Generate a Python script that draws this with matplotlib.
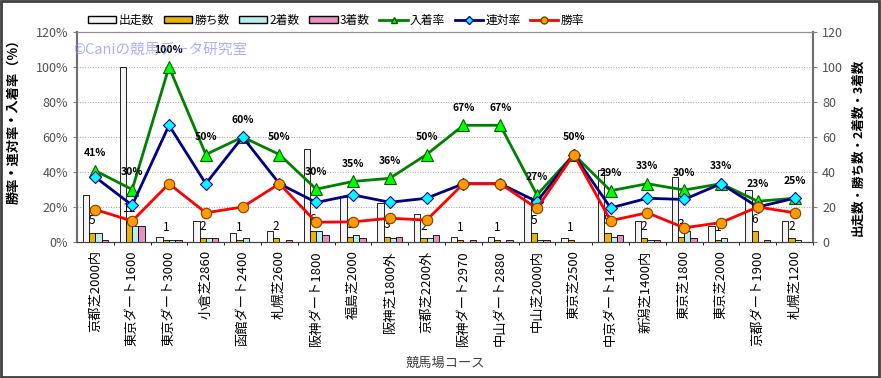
import matplotlib.pyplot as plt
import matplotlib.patches as patches
from matplotlib.lines import Line2D
from matplotlib.ticker import FixedLocator

plt.rcParams['font.family'] = ['Noto Sans CJK JP', 'DejaVu Sans']

courses = ['京都芝2000内', '東京ダート1600', '東京ダート3000', '小倉芝2860', '函館ダート2400',
           '札幌芝2600', '阪神ダート1800', '福島芝2000', '阪神芝1800外', '京都芝2200外',
           '阪神ダート2970', '中山ダート2880', '中山芝2000内', '東京芝2500', '中京ダート1400',
           '新潟芝1400内', '東京芝1800', '東京芝2000', '京都ダート1900', '札幌芝1200']

starts = [27, 100, 3, 12, 5, 6, 53, 26, 22, 16, 3, 3, 26, 2, 41, 12, 37, 9, 30, 12]
wins = [5, 12, 1, 2, 1, 2, 6, 3, 3, 2, 1, 1, 5, 1, 5, 2, 3, 1, 6, 2]
seconds = [5, 9, 1, 2, 2, 0, 6, 4, 2, 2, 0, 0, 1, 0, 3, 1, 6, 2, 0, 1]
thirds = [1, 9, 1, 2, 0, 1, 4, 2, 3, 4, 1, 1, 1, 0, 4, 1, 2, 0, 1, 0]

place_rate = [40.7, 30.0, 100.0, 50.0, 60.0, 50.0, 30.2, 34.6, 36.4, 50.0,
              66.7, 66.7, 26.9, 50.0, 29.3, 33.3, 29.7, 33.3, 23.3, 25.0]
quinella_rate = [37.0, 21.0, 66.7, 33.3, 60.0, 33.3, 22.6, 26.9, 22.7, 25.0,
                 33.3, 33.3, 23.1, 50.0, 19.5, 25.0, 24.3, 33.3, 20.0, 25.0]
win_rate = [18.5, 12.0, 33.3, 16.7, 20.0, 33.3, 11.3, 11.5, 13.6, 12.5,
            33.3, 33.3, 19.2, 50.0, 12.2, 16.7, 8.1, 11.1, 20.0, 16.7]
place_labels = ['41%', '30%', '100%', '50%', '60%', '50%', '30%', '35%', '36%', '50%',
                '67%', '67%', '27%', '50%', '29%', '33%', '30%', '33%', '23%', '25%']

fig = plt.figure(figsize=(8.81, 3.78), dpi=100)
fig.patch.set_facecolor('white')
ax = fig.add_axes([0.0874, 0.3598, 0.8354, 0.5555])
ax2 = ax.twinx()
ax.set_zorder(ax2.get_zorder() + 1)
ax.patch.set_visible(False)
ax2.patch.set_facecolor('#F9EFD7')

x = list(range(len(courses)))
w = 0.17
bar_styles = [
    (starts, '#F4F4F4', '出走数', -1.5),
    (wins, '#E8B400', '勝ち数', -0.5),
    (seconds, '#B8F0F0', '2着数', 0.5),
    (thirds, '#E890C0', '3着数', 1.5),
]
for vals, col, lab, off in bar_styles:
    ax2.bar([i + off * w for i in x], vals, width=w, color=col,
            edgecolor='black', linewidth=0.6, zorder=3)

# win counts written above the 勝ち数 bars
for i, v in enumerate(wins):
    ax2.text(i - 0.5 * w, v + 7, str(v), ha='center', va='center',
             fontsize=8.5, color='black', zorder=4)

ax.plot(x, place_rate, color='#008000', lw=2, marker='^', ms=8,
        mfc='#00FF00', mec='#006000', mew=0.8, zorder=5)
ax.plot(x, quinella_rate, color='#000080', lw=2, marker='D', ms=6,
        mfc='#00FFFF', mec='#0000A0', mew=0.8, zorder=6)
ax.plot(x, win_rate, color='#FF0000', lw=2, marker='o', ms=7.5,
        mfc='#FF9900', mec='#804000', mew=0.8, zorder=7)

for i, (v, s) in enumerate(zip(place_rate, place_labels)):
    ax.text(i, v + 10, s, ha='center', va='center', fontsize=7.5,
            fontweight='bold', color='black', zorder=8)

for a in (ax, ax2):
    a.set_xlim(-0.5, len(courses) - 0.5)
    a.set_ylim(0, 120)
    a.set_yticks(range(0, 121, 20))

ax.set_yticklabels([f'{t}%' for t in range(0, 121, 20)])
ax.set_xticks(x)
ax.set_xticklabels(courses, rotation=90, fontsize=9.5)
ax.tick_params(axis='x', length=0, pad=6)
ax.tick_params(axis='y', labelsize=9, labelcolor='#505050', length=3, color='#808080')
ax2.tick_params(axis='y', labelsize=9, labelcolor='#505050', length=3, color='#808080')

ax2.xaxis.set_minor_locator(FixedLocator([i + 0.5 for i in x]))
ax2.grid(True, which='minor', axis='x', color='#A0A0A0', ls=':', lw=0.7, zorder=0)
ax2.grid(True, which='major', axis='y', color='#A0A0A0', ls=':', lw=0.7, zorder=0)
ax2.set_axisbelow(True)

for a in (ax, ax2):
    for sp in a.spines.values():
        sp.set_color('#909090')
        sp.set_linewidth(0.8)
    a.spines['left'].set_color('#707070')
    a.spines['left'].set_linewidth(1.5)
    a.spines['right'].set_color('#707070')
    a.spines['right'].set_linewidth(1.5)
    a.spines['bottom'].set_color('#404040')

ax.set_ylabel('勝率・連対率・入着率（%）', fontsize=9.5, fontweight='bold')
ax.yaxis.set_label_coords(-0.077, 0.59)
ax2.set_ylabel('出走数・勝ち数・2着数・3着数', fontsize=9, fontweight='bold', rotation=90)
ax2.yaxis.set_label_coords(1.053, 0.45)
ax.set_xlabel('競馬場コース', fontsize=9.5, color='#404040', labelpad=8)

ax.text(-0.005, 0.91, '©Caniの競馬データ研究室', transform=ax.transAxes,
        fontsize=10.5, color='#8C8CFF', alpha=0.7, ha='left', va='center', zorder=9)

handles = [
    patches.Patch(facecolor='#F4F4F4', edgecolor='black', label='出走数'),
    patches.Patch(facecolor='#E8B400', edgecolor='black', label='勝ち数'),
    patches.Patch(facecolor='#B8F0F0', edgecolor='black', label='2着数'),
    patches.Patch(facecolor='#E890C0', edgecolor='black', label='3着数'),
    Line2D([], [], color='#008000', lw=2, marker='^', ms=5, mfc='#00FF00', mec='#006000', label='入着率'),
    Line2D([], [], color='#000080', lw=2, marker='D', ms=4, mfc='#00FFFF', mec='#0000A0', label='連対率'),
    Line2D([], [], color='#FF0000', lw=2, marker='o', ms=5, mfc='#FF9900', mec='#804000', label='勝率'),
]
fig.legend(handles=handles, loc='center left', bbox_to_anchor=(0.088, 0.947), ncol=7,
           frameon=False, fontsize=8.5, handlelength=2.4, handleheight=0.5,
           handletextpad=0.2, columnspacing=0.8)

fig.add_artist(patches.Rectangle((0.001, 0.002), 0.997, 0.995, transform=fig.transFigure,
                                 fill=False, edgecolor='#404040', lw=2))

fig.savefig('out.png', dpi=100)
